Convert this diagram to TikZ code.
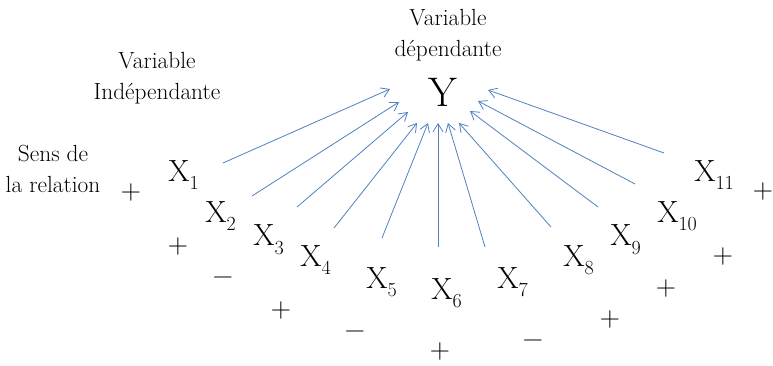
\documentclass[tikz,border=0pt]{standalone}
\usepackage{fontspec}
\usepackage{xcolor}
\usepackage{tikz}
\usetikzlibrary{arrows.meta}
\definecolor{relblue}{RGB}{79,129,189}
\newcommand{\xvar}[1]{X\raisebox{-6pt}{\fontsize{15}{15}\selectfont #1}}

\begin{document}
\begin{tikzpicture}[x=0.75pt, y=-0.75pt,
    txtlab/.style={inner sep=0pt, align=center, font=\fontsize{17.5}{23.5}\selectfont},
    xlab/.style={inner sep=0pt, anchor=base west, font=\fontsize{23}{23}\selectfont},
    sgn/.style={inner sep=0pt, font=\fontsize{21}{21}\selectfont},
    relarrow/.style={relblue, line width=0.6pt, -{Straight Barb[length=6pt,width=7.5pt]}}]
  \useasboundingbox (0,0) rectangle (773,366);

  % --- titles ---
  \node[txtlab, anchor=base] (lbldep) at (448,57) {Variable\\dépendante};
  \node[txtlab, anchor=base] (lblindep) at (157,100) {Variable\\Indépendante};
  \node[txtlab, anchor=base] (lblsens) at (53,193) {Sens de\\la relation};

  % dependent variable
  \node[inner sep=0pt, anchor=base, font=\fontsize{31}{31}\selectfont] (y) at (443,107) {Y};

  % --- independent variables ---
  \foreach \i/\px/\py in {1/168/182, 2/205/223, 3/253/246, 4/300/267, 5/366/288,
      6/431/299, 7/497/288, 8/563/267, 9/610/246, 10/657/223, 11/694/182}
    \node[xlab] (x\i) at (\px,\py) {\xvar{\i}};

  % --- signs of the relation ---
  \foreach \i/\px/\py/\s in {0/131/193/+, 1/178/247/+, 2/223/281/−, 3/281/311/+,
      4/355/335/−, 5/440/352/+, 6/533/344/−, 7/610/320/+, 8/666/289/+,
      9/723/257/+, 10/763/192/+}
    \node[sgn] (s\i) at (\px,\py) {\s};

  % --- arrows towards Y ---
  \foreach \i/\tx/\ty/\hx/\hy in {1/223/163/390/89, 2/252/196/399/102,
      3/297/207/408/112, 4/334/228/417/123, 5/382/238/428/123,
      6/438/247/438/123, 7/485/247/448/123, 8/551/227/459/123,
      9/598/207/470/111, 10/635/184/478/101, 11/664/153/488/90} {
    \coordinate (t\i) at (\tx,\ty);
    \coordinate (h\i) at (\hx,\hy);
    \draw[relarrow] (t\i) -- (h\i);
  }
\end{tikzpicture}
\end{document}
